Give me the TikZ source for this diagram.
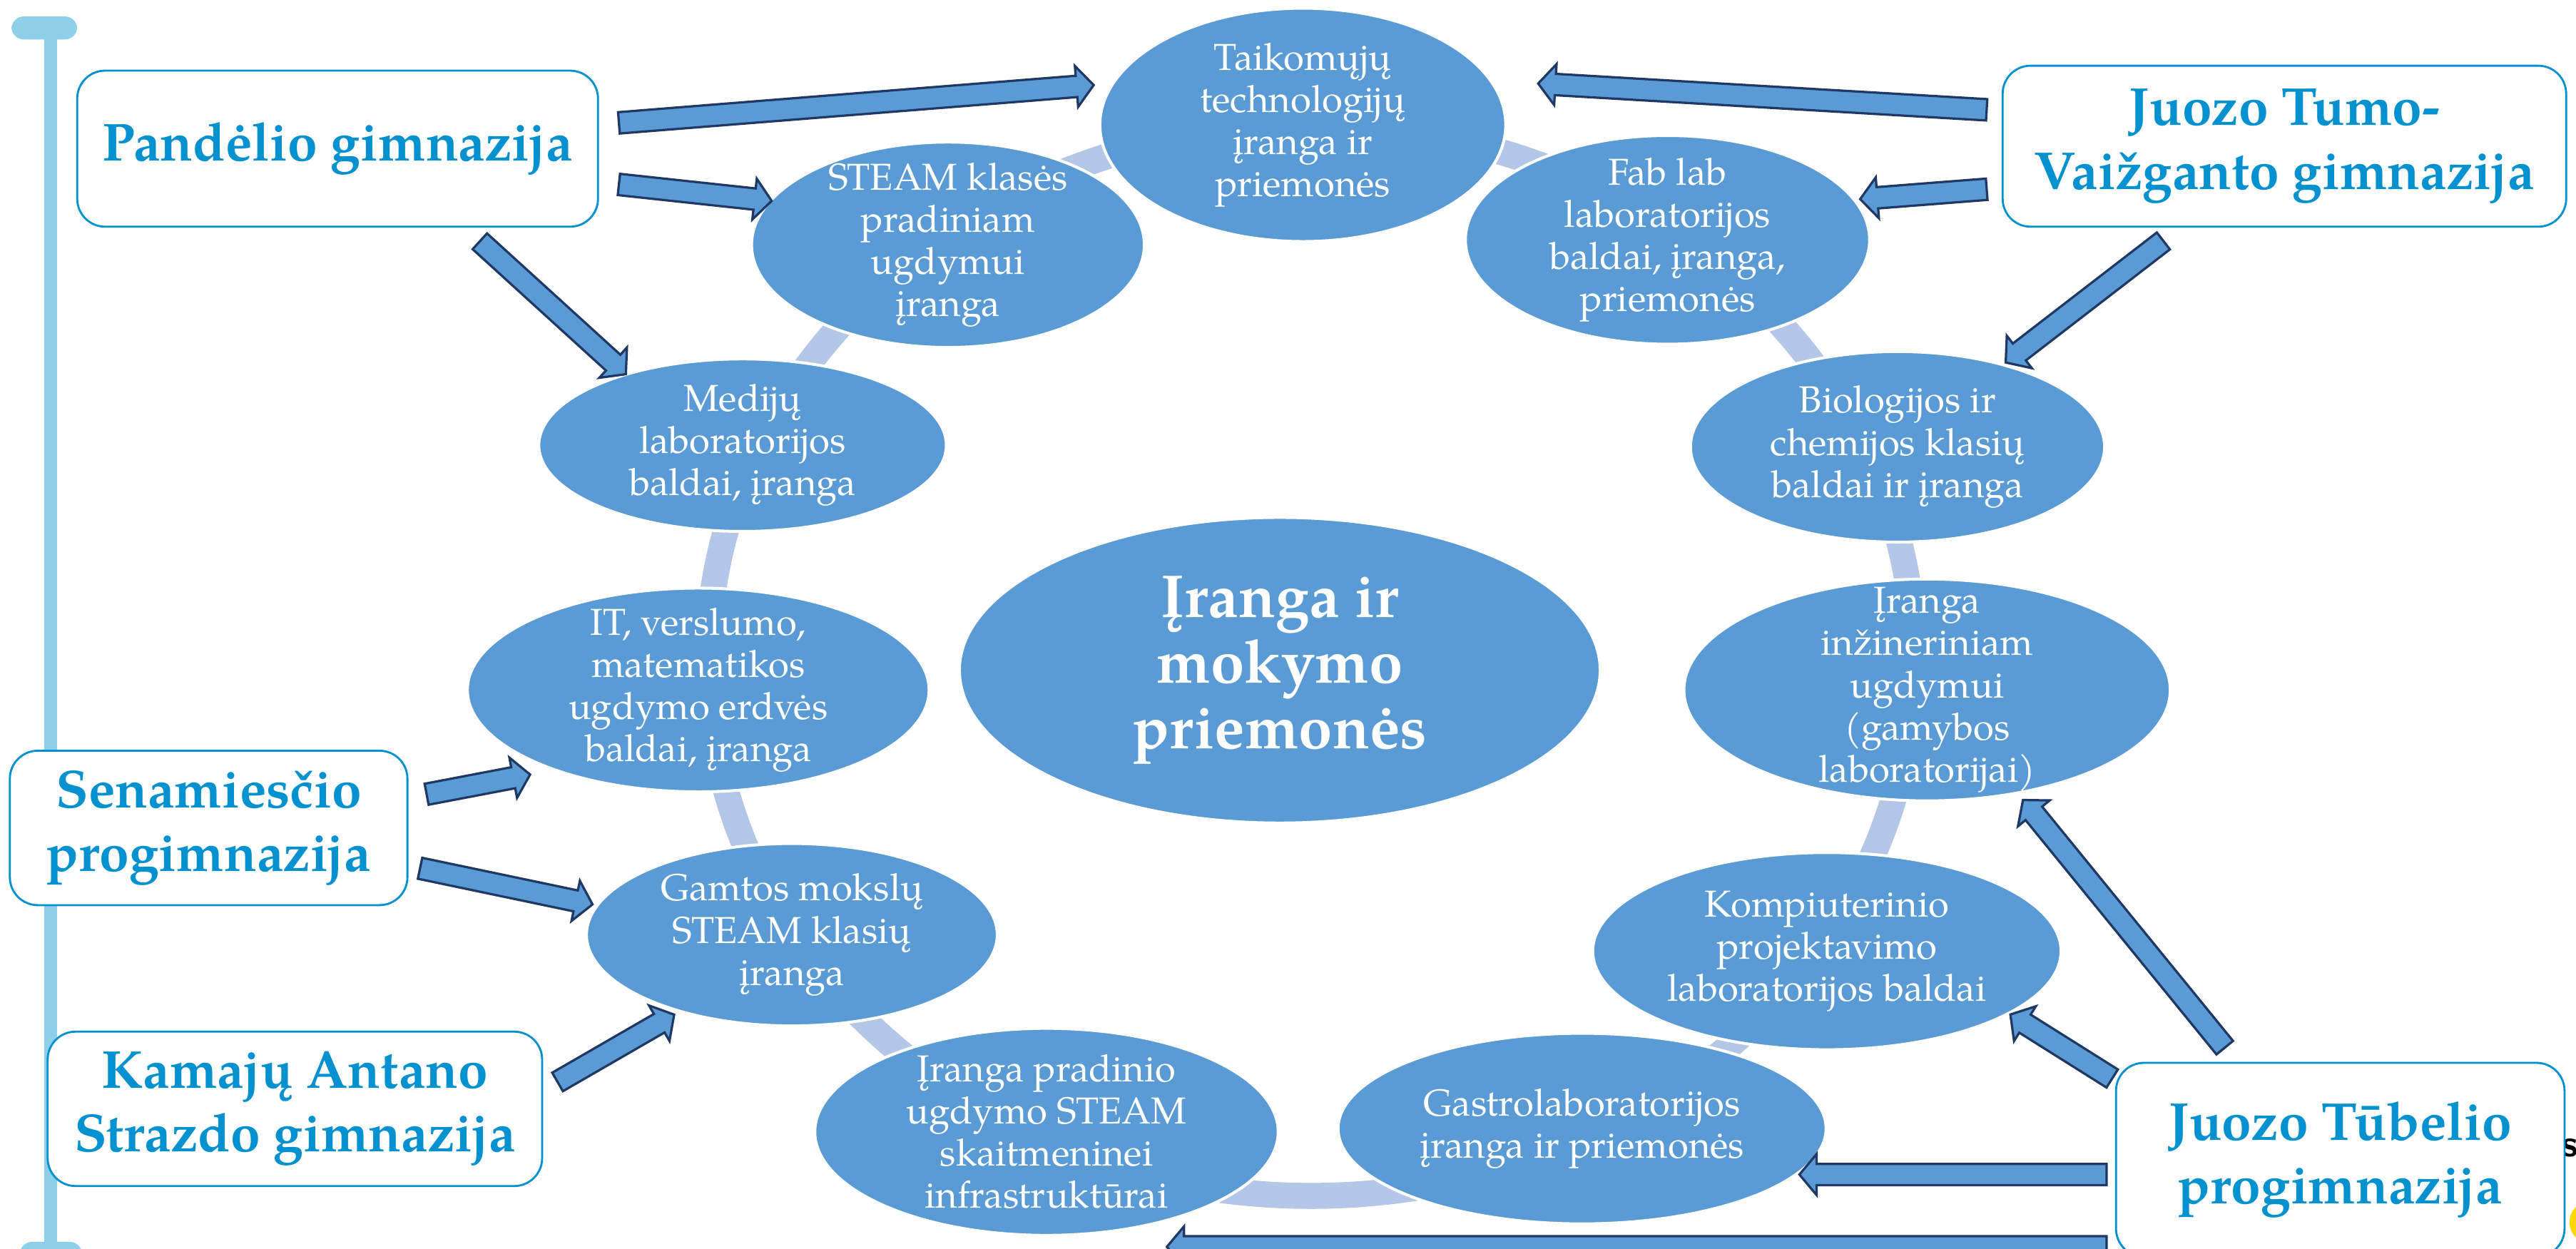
\documentclass[tikz,border=0pt]{standalone}
\usepackage{fontspec}
\setmainfont{texgyrepagella}[Extension=.otf, UprightFont=*-regular, BoldFont=*-bold, ItalicFont=*-italic, BoldItalicFont=*-bolditalic]
\usetikzlibrary{shapes.geometric,shapes.arrows,calc}
\definecolor{ovalblue}{HTML}{5B9BD5}
\definecolor{ringblue}{HTML}{B4C7E7}
\definecolor{schoolblue}{HTML}{0391CF}
\definecolor{barblue}{HTML}{8ED0EA}
\definecolor{arrowline}{HTML}{203864}
\newcommand{\barrow}[3]{\path let \p1=#2, \p2=#3, \n1={veclen(\x2-\x1,\y2-\y1)}, \n2={atan2(\y2-\y1,\x2-\x1)} in
  node[blockarrow, minimum height=\n1, rotate=\n2] (#1) at ($(\p1)!0.5!(\p2)$) {};}
\begin{document}
\begin{tikzpicture}[x=0.2mm,y=-0.2mm]
  \tikzstyle{oval}=[ellipse, fill=ovalblue, draw=white, line width=1pt, text=white, align=center, inner sep=-12pt, font=\fontsize{13}{14.6}\selectfont]
  \tikzstyle{school}=[rectangle, rounded corners=3.4mm, draw=schoolblue, line width=0.7pt, fill=white, text=schoolblue, align=center, font=\bfseries\fontsize{18.5}{22}\selectfont]
  \tikzstyle{blockarrow}=[single arrow, fill=ovalblue, draw=arrowline, line width=0.8pt, inner xsep=0pt, inner ysep=3.3pt, single arrow head extend=3.4pt, single arrow tip angle=100, minimum width=0pt]
  \useasboundingbox (0,0) rectangle (1568,760);

  \draw[barblue, line width=4.5pt] (31,17) -- (31,763);
  \fill[barblue, rounded corners=1.5mm] (7,10) rectangle (47,24);
  \fill[barblue, rounded corners=1.5mm] (12,756) rectangle (50,775);

  \draw[ringblue, line width=9pt] (798,402) ellipse [x radius=367, y radius=326];

  \node[oval, minimum width=49.4mm, minimum height=28.4mm] (taik) at (793,76) {Taikomųjų\\technologijų\\įranga ir\\priemonės};
  \node[oval, minimum width=47.8mm, minimum height=25mm] (steam) at (577,149) {STEAM klasės\\pradiniam\\ugdymui\\įranga};
  \node[oval, minimum width=49.2mm, minimum height=25.4mm] (fab) at (1015,146) {Fab lab\\laboratorijos\\baldai, įranga,\\priemonės};
  \node[oval, minimum width=49.6mm, minimum height=21mm] (med) at (452,271) {Medijų\\laboratorijos\\baldai, įranga};
  \node[oval, minimum width=50.4mm, minimum height=23.2mm] (bio) at (1155,272) {Biologijos ir\\chemijos klasių\\baldai ir įranga};
  \node[oval, minimum width=56.2mm, minimum height=24.8mm] (it) at (425,420) {IT, verslumo,\\matematikos\\ugdymo erdvės\\baldai, įranga};
  \node[oval, minimum width=59.2mm, minimum height=27mm] (inz) at (1173,420) {Įranga\\inžineriniam\\ugdymui\\(gamybos\\laboratorijai)};
  \node[oval, minimum width=50mm, minimum height=22.2mm] (gam) at (482,569) {Gamtos mokslų\\STEAM klasių\\įranga};
  \node[oval, minimum width=57mm, minimum height=24mm] (komp) at (1112,579) {Kompiuterinio\\projektavimo\\laboratorijos baldai};
  \node[oval, minimum width=56.4mm, minimum height=25.2mm] (prad) at (637,689) {Įranga pradinio\\ugdymo STEAM\\skaitmeninei\\infrastruktūrai};
  \node[oval, minimum width=59.4mm, minimum height=23.2mm] (gas) at (963,687) {Gastrolaboratorijos\\įranga ir priemonės};
  \node[oval, minimum width=78mm, minimum height=37.2mm, font=\bfseries\fontsize{21}{22.7}\selectfont] (ctr) at (779,408) {Įranga ir\\mokymo\\priemonės};

  \fill[yellow!75!orange] (1577,744) circle (13);
  \fill[barblue] (1585,766) circle (15);
  \node[anchor=base west, inner sep=0pt, font=\sffamily\bfseries\fontsize{13}{13}\selectfont] (sfrag) at (1559,704) {s};

  \node[school, minimum width=63.4mm, minimum height=19mm] (pan) at (205.5,90.5) {Pandėlio gimnazija};
  \node[school, minimum width=68.6mm, minimum height=19.6mm] (tumo) at (1390.5,89) {Juozo Tumo-\\Vaižganto gimnazija};
  \node[school, minimum width=48.4mm, minimum height=18.8mm] (sen) at (127,504) {Senamiesčio\\progimnazija};
  \node[school, minimum width=60.2mm, minimum height=18.8mm] (kam) at (179.5,675) {Kamajų Antano\\Strazdo gimnazija};
  \node[school, minimum width=54.6mm, minimum height=23.6mm] (tub) at (1424.5,706) {Juozo Tūbelio\\progimnazija};

  \barrow{a1}{([shift={(168.5,-15.5)}]pan.center)}{([shift={(-130,-24)}]taik.center)}
  \barrow{a2}{([shift={(168.5,21.5)}]pan.center)}{([shift={(-110,-27)}]steam.center)}
  \barrow{a3}{([shift={(84.5,54.5)}]pan.center)}{([shift={(-73,-45)}]med.center)}
  \barrow{a4}{([shift={(-178.5,-22)}]tumo.center)}{([shift={(146,-25)}]taik.center)}
  \barrow{a5}{([shift={(-178.5,26)}]tumo.center)}{([shift={(120,-25)}]fab.center)}
  \barrow{a6}{([shift={(-71.5,56)}]tumo.center)}{([shift={(68,-53)}]bio.center)}
  \barrow{a7}{([shift={(130,-20)}]sen.center)}{([shift={(-105,52)}]it.center)}
  \barrow{a8}{([shift={(126,24)}]sen.center)}{([shift={(-124,-19)}]gam.center)}
  \barrow{a9}{([shift={(157.5,-15)}]kam.center)}{([shift={(-74,50)}]gam.center)}
  \barrow{a10}{([shift={(-68.5,-66)}]tub.center)}{([shift={(60,69)}]inz.center)}
  \barrow{a11}{([shift={(-136.5,-48)}]tub.center)}{([shift={(114,40)}]komp.center)}
  \barrow{a12}{([shift={(-139.5,9)}]tub.center)}{([shift={(135,28)}]gas.center)}
  \barrow{a13}{([shift={(-139.5,53)}]tub.center)}{([shift={(76,70)}]prad.center)}
\end{tikzpicture}
\end{document}
